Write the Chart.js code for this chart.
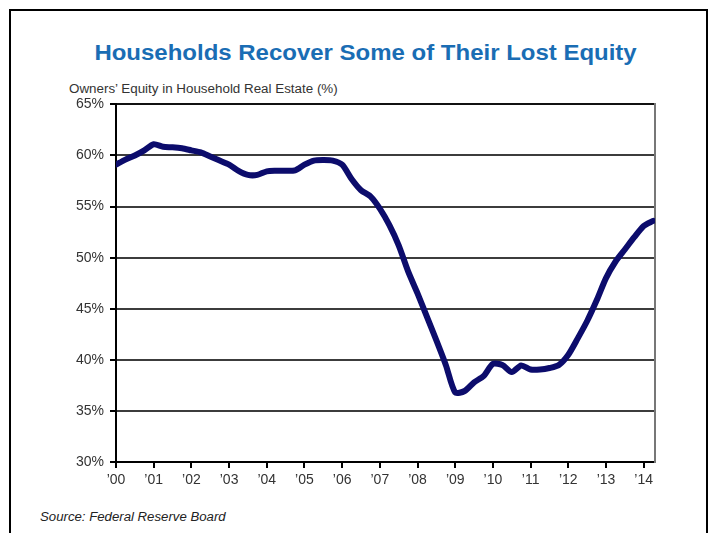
<!DOCTYPE html>
<html>
<head>
<meta charset="utf-8">
<script src="https://cdn.jsdelivr.net/npm/chart.js@4/dist/chart.umd.min.js"></script>
<style>
    html, body { margin: 0; padding: 0; background: #fff; }
    body { width: 717px; height: 533px; position: relative; overflow: hidden; font-family: Arial, "Liberation Sans", sans-serif; }
    .frame { position: absolute; left: 9px; top: 9px; width: 695px; height: 600px; border: 2px solid #000; }
    .title { position: absolute; left: 7px; top: 42px; width: 717px; text-align: center; font-size: 22px; line-height: 22px; font-weight: bold; color: #1a6db4; white-space: nowrap; transform: scaleX(1.09); transform-origin: 358px 0; }
    .caption { position: absolute; left: 69px; top: 83px; font-size: 12px; line-height: 12px; color: #333; white-space: nowrap; transform: scaleX(1.115); transform-origin: 0 0; }
    .source { position: absolute; left: 40px; top: 511px; font-size: 12px; line-height: 12px; font-style: italic; color: #222; white-space: nowrap; transform: scaleX(1.1); transform-origin: 0 0; }
    .chart-box { position: absolute; left: 50px; top: 90px; width: 620px; height: 412px; }
</style>
</head>
<body>
<div class="frame"></div>
<div class="title">Households Recover Some of Their Lost Equity</div>
<div class="caption">Owners’ Equity in Household Real Estate (%)</div>
<div class="chart-box"><canvas id="equityChart"></canvas></div>
<div class="source">Source: Federal Reserve Board</div>
<script>
// Quarterly readings, 2000 Q1 through 2014 Q2
const START_YEAR = 2000;
const equity = [
    59.1, 59.6, 60.0, 60.5,
    61.1, 60.85, 60.8, 60.7,
    60.5, 60.3, 59.9, 59.5,
    59.1, 58.5, 58.1, 58.1,
    58.45, 58.5, 58.5, 58.55,
    59.1, 59.5, 59.55, 59.5,
    59.1, 57.7, 56.6, 56.0,
    54.8, 53.2, 51.2, 48.65,
    46.5, 44.2, 41.9, 39.5,
    36.8, 36.95, 37.8, 38.4,
    39.6, 39.5, 38.8, 39.45,
    39.05, 39.05, 39.2, 39.5,
    40.5, 42.1, 43.8, 45.8,
    48.0, 49.6, 50.8, 52.0,
    53.1, 53.6
];
const yearTicks = [2000, 2001, 2002, 2003, 2004, 2005, 2006, 2007, 2008, 2009, 2010, 2011, 2012, 2013, 2014];
const percentTicks = [30, 35, 40, 45, 50, 55, 60, 65];

const tickFont = { family: 'Arial, "Liberation Sans", sans-serif', size: 14 };
const tickColor = '#333';

function quarterPoints(values) {
    return values.map((v, i) => ({ x: START_YEAR + i / 4, y: v }));
}

function renderEquityChart() {
    const ctx = document.getElementById('equityChart').getContext('2d');
    return new Chart(ctx, {
        type: 'line',
        data: {
            datasets: [{
                label: 'Owners\u2019 Equity',
                data: quarterPoints(equity),
                borderColor: '#0c0c6c',
                borderWidth: 6,
                pointRadius: 0,
                tension: 0.25,
                borderCapStyle: 'round',
                borderJoinStyle: 'round',
                fill: false
            }]
        },
        options: {
            responsive: true,
            maintainAspectRatio: false,
            animation: false,
            layout: { padding: { top: 8, right: 15, bottom: 0, left: 0 } },
            plugins: { legend: { display: false }, tooltip: { enabled: false } },
            scales: {
                x: {
                    type: 'linear',
                    min: 2000,
                    max: 2014.3,
                    afterBuildTicks: axis => { axis.ticks = yearTicks.map(v => ({ value: v })); },
                    afterFit: axis => { axis.height = 40; },
                    ticks: {
                        color: tickColor, font: tickFont, padding: 4, maxRotation: 0, autoSkip: false,
                        callback: v => '\u2019' + String(v).slice(2)
                    },
                    grid: { drawOnChartArea: false, tickLength: 6, color: '#000', lineWidth: 2 },
                    border: { color: '#000', width: 2 }
                },
                y: {
                    min: 30,
                    max: 65,
                    afterBuildTicks: axis => { axis.ticks = percentTicks.map(v => ({ value: v })); },
                    afterFit: axis => { axis.width = 66; },
                    ticks: { color: tickColor, font: tickFont, padding: 6, callback: v => v + '%' },
                    grid: {
                        tickLength: 6,
                        lineWidth: 2,
                        color: c => (c.tick && c.tick.value === 65) ? '#111' : '#3c3c3c',
                        tickColor: '#000'
                    },
                    border: { color: '#000', width: 2 }
                },
                // right-hand edge of the plot box
                y2: {
                    position: 'right',
                    min: 30,
                    max: 65,
                    afterFit: axis => { axis.width = 0; },
                    ticks: { display: false },
                    grid: { display: false },
                    border: { color: '#777', width: 2 }
                }
            }
        }
    });
}

renderEquityChart();
</script>
</body>
</html>
